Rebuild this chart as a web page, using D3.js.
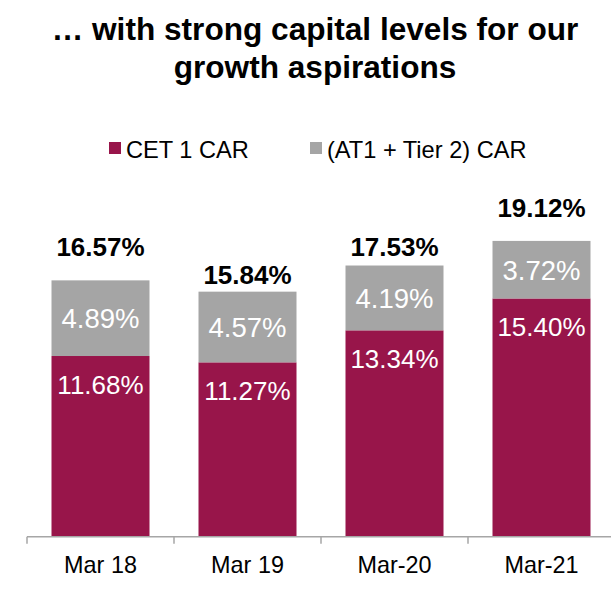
<!DOCTYPE html>
<html>
<head>
<meta charset="utf-8">
<script src="https://cdn.jsdelivr.net/npm/d3@7"></script>
<style>
	body { margin: 0; background: #fff; }
	svg { display: block; font-family: "Liberation Sans", Arial, sans-serif; }
</style>
</head>
<body>
<div id="chart"></div>
<script>

// data
var periods = ["Mar 18", "Mar 19", "Mar-20", "Mar-21"];
var cet1 = [11.68, 11.27, 13.34, 15.40];
var at1Tier2 = [4.89, 4.57, 4.19, 3.72];
var totals = [16.57, 15.84, 17.53, 19.12];
var seriesNames = ["CET 1 CAR", "(AT1 + Tier 2) CAR"];

// label lift above each bar (as on the slide, not all the same)
var totalGap = [24, 8, 10, 24];

var width = 611, height = 592;
var colors = { cet: "#98154a", tier: "#a5a5a5", axis: "#a6a6a6" };

var svg = d3.select("#chart").append("svg")
	.attr("width", width)
	.attr("height", height);

/*
 *	TITLE
 */
var title = svg.append("text")
	.attr("text-anchor", "middle")
	.style("font-weight", "bold")
	.style("font-size", "31.6px")
	.attr("fill", "#000");
title.append("tspan").attr("x", 315).attr("y", 40).text("\u2026 with strong capital levels for our");
title.append("tspan").attr("x", 315).attr("y", 78).text("growth aspirations");

/*
 *	LEGEND
 */
var legend = svg.append("g").attr("class", "legend");
var legendX = [109, 310];
legend.selectAll("rect")
	.data(seriesNames).enter()
	.append("rect")
		.attr("x", function(d, i){ return legendX[i] })
		.attr("y", 142)
		.attr("width", 12)
		.attr("height", 12)
		.attr("fill", function(d, i){ return i == 0 ? colors.cet : colors.tier });
legend.selectAll("text")
	.data(seriesNames).enter()
	.append("text")
		.attr("x", function(d, i){ return legendX[i] + 17 })
		.attr("y", 157.5)
		.style("font-size", "23.6px")
		.attr("fill", "#000")
		.text(function(d){ return d });

/*
 *	SCALES
 */
var xScale = d3.scaleBand()
	.domain(periods)
	.range([27, 615])
	.paddingInner(1/3)
	.paddingOuter(1/6);

var yScale = d3.scaleLinear()
	.domain([0, 20])
	.range([536.7, 536.7 - 20 * 15.47]);

var rows = periods.map(function(p, i){
	return { period: p, cet: cet1[i], tier: at1Tier2[i], total: totals[i], i: i };
});

var g = svg.append("g");

// CET 1 segment
g.selectAll("rect.cet")
	.data(rows).enter()
	.append("rect")
		.attr("class", "cet")
		.attr("x", function(d){ return xScale(d.period) })
		.attr("width", xScale.bandwidth())
		.attr("y", function(d){ return yScale(d.cet) })
		.attr("height", function(d){ return yScale(0) - yScale(d.cet) })
		.attr("fill", colors.cet);

// AT1 + Tier 2 segment
g.selectAll("rect.tier")
	.data(rows).enter()
	.append("rect")
		.attr("class", "tier")
		.attr("x", function(d){ return xScale(d.period) })
		.attr("width", xScale.bandwidth())
		.attr("y", function(d){ return yScale(d.cet + d.tier) })
		.attr("height", function(d){ return yScale(d.cet) - yScale(d.cet + d.tier) })
		.attr("fill", colors.tier);

// value labels
var mid = function(d){ return xScale(d.period) + xScale.bandwidth() / 2 };

g.selectAll("text.cetLabel")
	.data(rows).enter()
	.append("text")
		.attr("class", "cetLabel")
		.attr("x", mid)
		.attr("y", function(d){ return yScale(d.cet) + 38 })
		.attr("text-anchor", "middle")
		.style("font-size", "26px")
		.attr("fill", "#fff")
		.text(function(d){ return d.cet.toFixed(2) + "%" });

g.selectAll("text.tierLabel")
	.data(rows).enter()
	.append("text")
		.attr("class", "tierLabel")
		.attr("x", mid)
		.attr("y", function(d){ return (yScale(d.cet) + yScale(d.cet + d.tier)) / 2 + 10 })
		.attr("text-anchor", "middle")
		.style("font-size", "27.5px")
		.attr("fill", "#fff")
		.text(function(d){ return d.tier.toFixed(2) + "%" });

g.selectAll("text.total")
	.data(rows).enter()
	.append("text")
		.attr("class", "total")
		.attr("x", mid)
		.attr("y", function(d){ return yScale(d.total) - totalGap[d.i] })
		.attr("text-anchor", "middle")
		.style("font-size", "26px")
		.style("font-weight", "bold")
		.attr("fill", "#000")
		.text(function(d){ return d.total.toFixed(2) + "%" });

/*
 *	X AXIS (ticks between categories)
 */
var axis = svg.append("g").attr("class", "x axis");
var y0 = yScale(0);
var gapHalf = (xScale.step() - xScale.bandwidth()) / 2;

axis.append("line")
	.attr("x1", xScale(periods[0]) - gapHalf)
	.attr("x2", width)
	.attr("y1", y0).attr("y2", y0)
	.attr("stroke", colors.axis)
	.attr("stroke-width", 1.5);

axis.selectAll("line.tick")
	.data(periods).enter()
	.append("line")
		.attr("class", "tick")
		.attr("x1", function(d){ return xScale(d) - gapHalf })
		.attr("x2", function(d){ return xScale(d) - gapHalf })
		.attr("y1", y0)
		.attr("y2", y0 + 7)
		.attr("stroke", colors.axis)
		.attr("stroke-width", 1.5);

axis.selectAll("text")
	.data(periods).enter()
	.append("text")
		.attr("x", function(d){ return xScale(d) + xScale.bandwidth() / 2 })
		.attr("y", 573)
		.attr("text-anchor", "middle")
		.style("font-size", "23.4px")
		.attr("fill", "#000")
		.text(function(d){ return d });

</script>
</body>
</html>
